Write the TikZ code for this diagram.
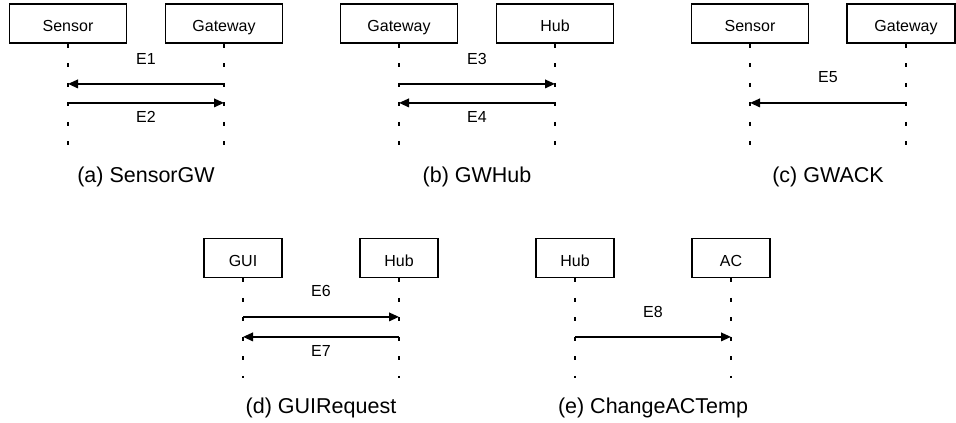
\documentclass[tikz,border=0pt]{standalone}
\usepackage{fontspec}
\setmainfont{Liberation Sans}
\usetikzlibrary{arrows.meta}
\begin{document}
\begin{tikzpicture}[x=1pt,y=-1pt,
  actor/.style={draw, line width=1.8pt, minimum height=39pt, inner sep=0pt,
    text height=16pt, text depth=0pt, font=\fontsize{16}{19}\selectfont},
  wide/.style={actor, minimum width=117pt},
  narrow/.style={actor, minimum width=78pt},
  lifeline/.style={line width=2.3pt, dash pattern=on 4pt off 15.5pt},
  msg/.style={line width=2pt, -{Triangle[length=10pt,width=8.5pt]}},
  elabel/.style={font=\fontsize{16}{19}\selectfont, inner sep=0pt},
  caption/.style={font=\fontsize{21.5}{25}\selectfont, anchor=base, inner sep=0pt}]
\useasboundingbox (0,0) rectangle (956,423);

% ---------- (a) SensorGW ----------
\node[wide] (aS) at (68,23.5) {Sensor};
\node[wide] (aG) at (224,23.5) {Gateway};
\draw[lifeline] (aS.south) -- ++(0,104);
\draw[lifeline] (aG.south) -- ++(0,104);
\draw[msg] ([yshift=-40pt]aG.south) -- ([yshift=-40pt]aS.south);
\draw[msg] ([yshift=-59pt]aS.south) -- ([yshift=-59pt]aG.south);
\node[elabel] (e1) at (146,58.5) {E1};
\node[elabel] (e2) at (146,117) {E2};
\node[caption] (capa) at (146,182) {(a) SensorGW};

% ---------- (b) GWHub ----------
\node[wide] (bG) at (399,23.5) {Gateway};
\node[wide] (bH) at (555,23.5) {Hub};
\draw[lifeline] (bG.south) -- ++(0,104);
\draw[lifeline] (bH.south) -- ++(0,104);
\draw[msg] ([yshift=-40pt]bG.south) -- ([yshift=-40pt]bH.south);
\draw[msg] ([yshift=-59pt]bH.south) -- ([yshift=-59pt]bG.south);
\node[elabel] (e3) at (477,58.5) {E3};
\node[elabel] (e4) at (477,117) {E4};
\node[caption] (capb) at (477,182) {(b) GWHub};

% ---------- (c) GWACK ----------
\node[wide] (cS) at (750,23.5) {Sensor};
\node[actor, minimum width=108pt] (cG) at (901,23.5) {\hspace*{10pt}Gateway};
\coordinate (cGl) at ([xshift=5pt]cG.south);
\draw[lifeline] (cS.south) -- ++(0,104);
\draw[lifeline] (cGl) -- ++(0,104);
\draw[msg] ([yshift=-59pt]cGl) -- ([yshift=-59pt]cS.south);
\node[elabel] (e5) at (828,77) {E5};
\node[caption] (capc) at (828,182) {(c) GWACK};

% ---------- (d) GUIRequest ----------
\node[narrow] (dU) at (243,258) {GUI};
\node[narrow] (dH) at (399,258) {Hub};
\draw[lifeline] (dU.south) -- ++(0,100);
\draw[lifeline] (dH.south) -- ++(0,100);
\draw[msg] ([yshift=-38.5pt]dU.south) -- ([yshift=-38.5pt]dH.south);
\draw[msg] ([yshift=-58.5pt]dH.south) -- ([yshift=-58.5pt]dU.south);
\node[elabel] (e6) at (321,290.5) {E6};
\node[elabel] (e7) at (321,351) {E7};
\node[caption] (capd) at (321,413) {(d) GUIRequest};

% ---------- (e) ChangeACTemp ----------
\node[narrow] (eH) at (575,258) {Hub};
\node[narrow] (eA) at (731,258) {AC};
\draw[lifeline] (eH.south) -- ++(0,100);
\draw[lifeline] (eA.south) -- ++(0,100);
\draw[msg] ([yshift=-58.5pt]eH.south) -- ([yshift=-58.5pt]eA.south);
\node[elabel] (e8) at (653,312) {E8};
\node[caption] (cape) at (653,413) {(e) ChangeACTemp};
\end{tikzpicture}
\end{document}
